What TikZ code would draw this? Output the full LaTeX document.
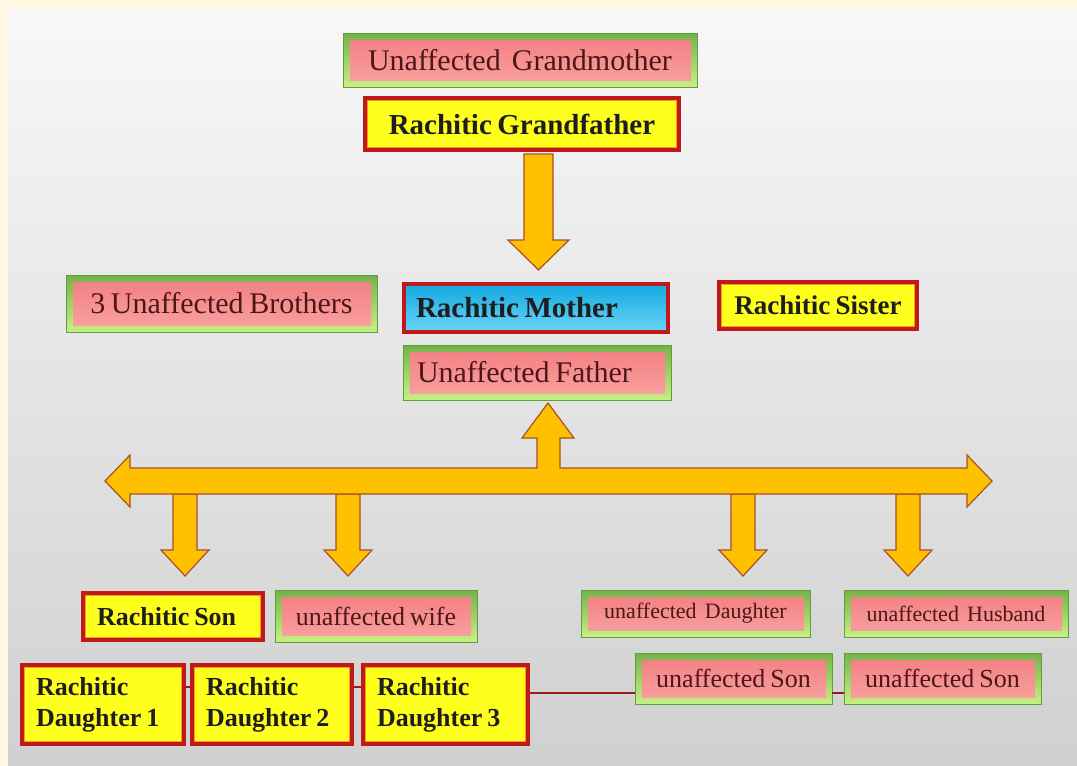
\documentclass[tikz,border=0pt]{standalone}
\usepackage{fontspec}
\setmainfont{Liberation Serif}[WordSpace=0.75]

\definecolor{cream}{HTML}{FFF9E6}
\definecolor{paneltop}{HTML}{F8F8F8}
\definecolor{panelbot}{HTML}{D0D0D0}
\definecolor{unafedge}{HTML}{5F9E3A}
\definecolor{unafgreen}{HTML}{74B34A}
\definecolor{unaflight}{HTML}{C8F084}
\definecolor{unafpink}{HTML}{F27C80}
\definecolor{unafpinklo}{HTML}{F9A3A1}
\definecolor{unaftext}{HTML}{4E1619}
\definecolor{rachred}{HTML}{C0191C}
\definecolor{rachorange}{HTML}{F39A1E}
\definecolor{rachyellow}{HTML}{FFFF1E}
\definecolor{rachtext}{HTML}{1E1E1E}
\definecolor{mumblue}{HTML}{12A9E2}
\definecolor{mumbluelo}{HTML}{6CD5F6}
\definecolor{arrowfill}{HTML}{FFC000}
\definecolor{arrowedge}{HTML}{A9502A}
\definecolor{linkred}{HTML}{9B1B1B}

\tikzset{
  unaff/.style={rectangle, inner sep=0pt, draw=unafedge, line width=0.8pt,
    top color=unafgreen, bottom color=unaflight, text=unaftext,
    font=\fontsize{#1}{31}\selectfont,
    path picture={\shade[top color=unafpink, bottom color=unafpinklo]
      ([shift={(7pt,-7pt)}]path picture bounding box.north west) rectangle
      ([shift={(-6pt,7pt)}]path picture bounding box.south east);}},
  unaff/.default=30,
  rach/.style={rectangle, inner sep=0pt, draw=rachred, line width=3.5pt,
    fill=rachyellow, text=rachtext,
    font=\fontsize{#1}{31}\selectfont\bfseries,
    path picture={\draw[rachorange, line width=1.6pt]
      ([shift={(2.6pt,-2.6pt)}]path picture bounding box.north west) rectangle
      ([shift={(-2.6pt,2.6pt)}]path picture bounding box.south east);}},
  rach/.default=28,
  rachblue/.style={rach=#1, top color=mumblue, bottom color=mumbluelo,
    path picture={}},
  rachblue/.default=28,
  blockarrow/.style={fill=arrowfill, draw=arrowedge, line width=1.2pt},
  link/.style={draw=linkred, line width=2pt},
  boxsize/.style 2 args={minimum width=#1pt, minimum height=#2pt},
}

\begin{document}
\begin{tikzpicture}[x=1pt, y=-1pt]
    \useasboundingbox (0,0) rectangle (1077,766);

    % Background
    \fill[cream] (0,0) rectangle (1077,766);
    \shade[top color=paneltop, bottom color=panelbot] (8,10) rectangle (1077,766);

    % Grandparents
    \node[unaff, boxsize={354}{54}] (gm) at (520,60) {Unaffected\ \ Grandmother};
    \node[rach=29, boxsize={314}{52}] (gf) at (522,124) {Rachitic Grandfather};

    % Parents and their siblings
    \node[unaff, boxsize={311}{57}] (bro) at (221.5,303.5) {3 Unaffected Brothers};
    \node[rachblue=29, boxsize={264}{48}, text width=240pt, align=flush left] (mom) at (536,308) {Rachitic Mother};
    \node[rach=27, boxsize={198}{47}] (sis) at (818,305.5) {Rachitic Sister};
    \node[unaff, boxsize={268}{55}, text width=240pt, align=flush left] (fa) at (537,372.5) {Unaffected Father};

    % Children and spouses
    \node[rach=26, boxsize={180}{47}, text width=152pt, align=flush left] (son) at (173,616.5) {Rachitic Son};
    \node[unaff=26, boxsize={202}{52}] (wife) at (376,616) {unaffected wife};
    \node[unaff=22, boxsize={229}{47}] (dau) at (695.5,613.5) {unaffected\ \ Daughter};
    \node[unaff=22, boxsize={224}{47}] (hus) at (956,613.5) {unaffected\ \ Husband};

    % Grandchildren
    \node[rach=26, boxsize={162}{79}, text width=134pt, align=flush left] (d1) at (103,704.5) {Rachitic\\Daughter 1};
    \node[rach=26, boxsize={160}{79}, text width=132pt, align=flush left] (d2) at (272,704.5) {Rachitic\\Daughter 2};
    \node[rach=26, boxsize={165}{79}, text width=137pt, align=flush left] (d3) at (445.5,704.5) {Rachitic\\Daughter 3};
    \node[unaff=26, boxsize={197}{51}] (s1) at (733.5,678.5) {unaffected Son};
    \node[unaff=26, boxsize={197}{51}] (s2) at (942.5,678.5) {unaffected Son};

    \draw[link] ([yshift=18pt]d1.east) -- ([yshift=18pt]d2.west);
    \draw[link] ([yshift=18pt]d2.east) -- ([yshift=18pt]d3.west);
    \draw[link] ([yshift=12pt]d3.east) -- ([yshift=-14pt]s1.west);
    \draw[link] ([yshift=-14pt]s1.east) -- ([yshift=-14pt]s2.west);

    % Block arrows
    \draw[blockarrow] (524,154) -- (553,154) -- (553,240) -- (569,240) -- (538.5,270) -- (508,240) -- (524,240) -- cycle;

    \draw[blockarrow] (173,494) -- (197,494) -- (197,550) -- (209,550) -- (185,576) -- (161,550) -- (173,550) -- cycle;
    \draw[blockarrow] (336,494) -- (360,494) -- (360,550) -- (372,550) -- (348,576) -- (324,550) -- (336,550) -- cycle;
    \draw[blockarrow] (731,494) -- (755,494) -- (755,550) -- (767,550) -- (743,576) -- (719,550) -- (731,550) -- cycle;
    \draw[blockarrow] (896,494) -- (920,494) -- (920,550) -- (932,550) -- (908,576) -- (884,550) -- (896,550) -- cycle;

    \draw[blockarrow] (105,481) -- (130,455) -- (130,468) -- (537,468) -- (537,438) -- (522,438) -- (548,403)
        -- (574,438) -- (560,438) -- (560,468) -- (967,468) -- (967,455) -- (992,481) -- (967,507)
        -- (967,494) -- (130,494) -- (130,507) -- cycle;
\end{tikzpicture}
\end{document}
